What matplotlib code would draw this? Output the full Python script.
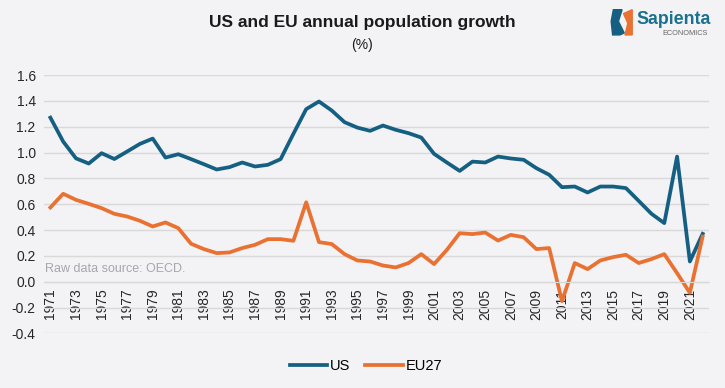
import matplotlib.pyplot as plt
from matplotlib.patches import Polygon

years = list(range(1971, 2023))

us = [1.27, 1.085, 0.955, 0.915, 0.995, 0.95, 1.008, 1.067, 1.108, 0.961,
      0.987, 0.949, 0.910, 0.869, 0.887, 0.923, 0.892, 0.905, 0.949, 1.145,
      1.336, 1.395, 1.325, 1.235, 1.193, 1.168, 1.209, 1.176, 1.150, 1.116,
      0.990, 0.923, 0.858, 0.930, 0.923, 0.969, 0.954, 0.944, 0.879, 0.828,
      0.732, 0.737, 0.691, 0.737, 0.737, 0.725, 0.626, 0.526, 0.454, 0.969,
      0.157, 0.371]

eu27 = [0.575, 0.681, 0.634, 0.603, 0.570, 0.526, 0.505, 0.472, 0.428, 0.459,
        0.415, 0.294, 0.253, 0.222, 0.227, 0.261, 0.286, 0.330, 0.330, 0.317,
        0.615, 0.307, 0.292, 0.214, 0.165, 0.157, 0.126, 0.111, 0.145, 0.214,
        0.137, 0.247, 0.376, 0.369, 0.381, 0.319, 0.363, 0.345, 0.253, 0.261,
        -0.15, 0.145, 0.098, 0.165, 0.191, 0.209, 0.145, 0.176, 0.214, 0.067,
        -0.085, 0.350]

bg = '#F3F3F6'
plt.rcParams['font.family'] = ['Liberation Sans', 'DejaVu Sans']

fig = plt.figure(figsize=(7.25, 3.88), dpi=100, facecolor=bg)
ax = fig.add_axes([0.0607, 0.1405, 0.9173, 0.6662], facecolor=bg)

ax.plot(years, us, color='#156082', lw=2.7, label='US', solid_joinstyle='round')
ax.plot(years, eu27, color='#E97132', lw=2.7, label='EU27', solid_joinstyle='round')

ax.set_ylim(-0.4, 1.6)
ax.set_xlim(1970.5, 2022.5)
ax.set_yticks([i / 10 for i in range(-4, 17, 2)])
ax.set_yticklabels([f'{i / 10:.1f}' for i in range(-4, 17, 2)], fontsize=10, color='#262626')
ax.grid(axis='y', color='#D9D9D9', lw=1)
ax.set_axisbelow(True)

for s in ['top', 'right', 'left']:
    ax.spines[s].set_visible(False)
ax.spines['bottom'].set_position(('data', 0))
ax.spines['bottom'].set_color('#D9D9D9')
ax.set_xticks(years[::2])
ax.set_xticklabels([str(y) for y in years[::2]], rotation=90, fontsize=10, color='#262626')
ax.tick_params(axis='both', length=0)
ax.tick_params(axis='x', pad=5)
ax.tick_params(axis='y', pad=6)

ax.text(1971 - 0.45, 0.1, 'Raw data source: OECD.', fontsize=9, color='#A6A6AE', va='center')

fig.text(0.5, 0.943, 'US and EU annual population growth', ha='center', va='center',
         fontsize=12.5, fontweight='bold', color='#1A1A1A')
fig.text(0.5, 0.884, '(%)', ha='center', va='center', fontsize=10, color='#1A1A1A')

leg = fig.legend(loc='center', bbox_to_anchor=(0.505, 0.057), ncol=2, frameon=False,
                 handlelength=2.6, columnspacing=1.0, handletextpad=0.2,
                 prop={'size': 10.5})

# logo
fig.patches.append(Polygon([[0.846, 0.975], [0.858, 0.975], [0.853, 0.945], [0.861, 0.915],
                            [0.855, 0.91], [0.845, 0.91], [0.843, 0.945]],
                           closed=True, transform=fig.transFigure, color='#156082'))
fig.patches.append(Polygon([[0.860, 0.965], [0.872, 0.975], [0.872, 0.91], [0.862, 0.91],
                            [0.866, 0.94]],
                           closed=True, transform=fig.transFigure, color='#E97132'))
fig.text(0.878, 0.951, 'Sapienta', fontsize=12.8, fontweight='bold', color='#1B6F8F',
         va='center', ha='left')
fig.text(0.914, 0.914, 'ECONOMICS', fontsize=5.3, color='#666666', va='center', ha='left')

fig.savefig('out.png', dpi=100, facecolor=bg)
